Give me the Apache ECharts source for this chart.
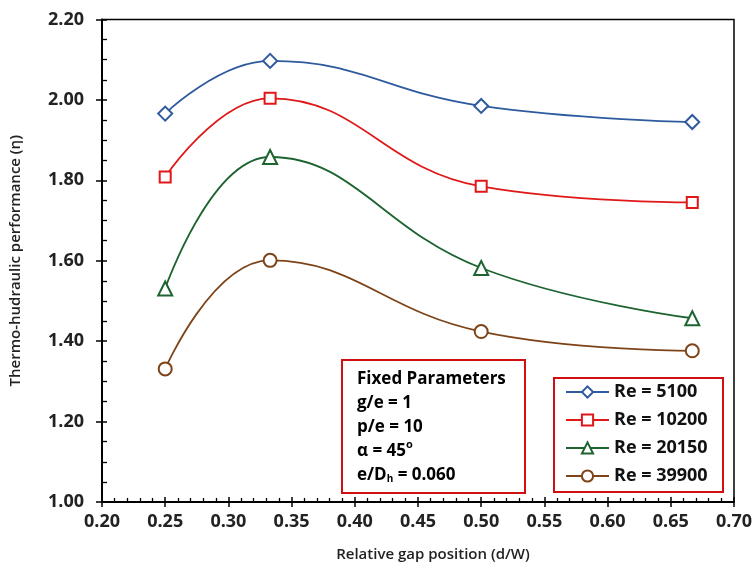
<!DOCTYPE html>
<html>
<head>
<meta charset="utf-8">
<script src="https://cdn.jsdelivr.net/npm/echarts@6/dist/echarts.min.js"></script>
<style>
html,body{margin:0;padding:0;background:#fff;}
#chart{width:755px;height:571px;}
</style>
</head>
<body>
<div id="chart"></div>
<script>
const xValues = [0.25, 0.333, 0.5, 0.667];
const seriesNames = ['Re = 5100', 'Re = 10200', 'Re = 20150', 'Re = 39900'];
const re5100 = [1.966, 2.097, 1.985, 1.945];
const re10200 = [1.808, 2.004, 1.785, 1.745];
const re20150 = [1.531, 1.858, 1.582, 1.457];
const re39900 = [1.331, 1.601, 1.424, 1.376];
const xTicks = [0.20, 0.25, 0.30, 0.35, 0.40, 0.45, 0.50, 0.55, 0.60, 0.65, 0.70];
const yTicks = [1.00, 1.20, 1.40, 1.60, 1.80, 2.00, 2.20];
const fixedParams = ['Fixed Parameters', 'g/e = 1', 'p/e = 10', 'α = 45', 'e/D', ' = 0.060'];

const FONT = 'Open Sans';
const colors = ['#2E5A9E', '#E01818', '#1D6431', '#7E4419'];
const symbols = ['diamond', 'rect', 'triangle', 'circle'];
const sizes = [14, 11, 14, 13];
const allData = [re5100, re10200, re20150, re39900];

const chart = echarts.init(document.getElementById('chart'));

const series = allData.map((vals, i) => ({
  name: seriesNames[i],
  type: 'line',
  smooth: 0.45,
  data: vals.map((v, j) => [xValues[j], v]),
  symbol: symbols[i],
  symbolSize: sizes[i],
  showAllSymbol: true,
  lineStyle: { color: colors[i], width: 1.8 },
  itemStyle: { color: '#fff', borderColor: colors[i], borderWidth: 2 },
  emphasis: { disabled: true },
  z: 3
}));

const labelStyle = { fontFamily: FONT, fontSize: 18, fontWeight: 'bold', color: '#222' };

chart.setOption({
  animation: false,
  grid: { left: 101, right: 21, top: 19.5, bottom: 69, show: true, borderColor: '#000', borderWidth: 1.5, backgroundColor: 'transparent' },
  legend: {
    orient: 'vertical',
    left: 553, top: 377,
    data: seriesNames,
    padding: [6, 0, 6, 12],
    itemGap: 10,
    itemWidth: 43, itemHeight: 14,
    textStyle: { fontFamily: FONT, fontSize: 18, fontWeight: 'bold', color: '#111' },
    z: 10
  },
  xAxis: [{
    type: 'value', min: 0.2, max: 0.7, interval: 0.05,
    name: 'Relative gap position (d/W)', nameLocation: 'middle', nameGap: 45,
    nameTextStyle: { fontFamily: FONT, fontSize: 15, fontWeight: 600, color: '#222', padding: [0, 0, 0, 30] },
    axisLine: { lineStyle: { color: '#000', width: 2 } },
    axisTick: { show: true, inside: true, length: 5, lineStyle: { color: '#000', width: 1.5 } },
    minorTick: { show: true, splitNumber: 5, length: 4, lineStyle: { color: '#000', width: 1.3 } },
    splitLine: { show: false },
    axisLabel: Object.assign({ margin: 11, formatter: v => v.toFixed(2) }, labelStyle)
  }, {
    type: 'value', min: 0.2, max: 0.7, interval: 0.05, position: 'bottom',
    axisLine: { show: false },
    axisTick: { show: true, inside: false, length: 5, lineStyle: { color: '#000', width: 1.5 } },
    axisLabel: { show: false }, splitLine: { show: false }
  }],
  yAxis: [{
    type: 'value', min: 1.0, max: 2.2, interval: 0.2,
    name: 'Thermo-hudraulic performance (η)', nameLocation: 'middle', nameGap: 79, nameRotate: 90,
    nameTextStyle: { fontFamily: FONT, fontSize: 15, fontWeight: 600, color: '#222' },
    axisLine: { show: true, lineStyle: { color: '#000', width: 2 } },
    axisTick: { show: true, inside: true, length: 5, lineStyle: { color: '#000', width: 1.5 } },
    minorTick: { show: true, splitNumber: 4, length: 5, lineStyle: { color: '#000', width: 1.3 } },
    splitLine: { show: false },
    axisLabel: Object.assign({ margin: 18, formatter: v => v.toFixed(2) }, labelStyle)
  }, {
    type: 'value', min: 1.0, max: 2.2, interval: 0.2, position: 'left',
    axisLine: { show: false },
    axisTick: { show: true, inside: false, length: 6, lineStyle: { color: '#000', width: 1.5 } },
    axisLabel: { show: false }, splitLine: { show: false }
  }],
  graphic: [{
    type: 'rect', left: 553, top: 377, z: 5,
    shape: { x: 0, y: 0, width: 169, height: 114 },
    style: { fill: '#fff', stroke: '#D01010', lineWidth: 2 }
  }, {
    type: 'group', left: 341, top: 359,
    children: [{
      type: 'rect', shape: { x: 0, y: 0, width: 183, height: 133 },
      style: { fill: '#fff', stroke: '#D01010', lineWidth: 2 }
    }, {
      type: 'text', left: 15, top: 11,
      style: {
        text: '{a|' + fixedParams[0] + '}\n{a|' + fixedParams[1] + '}\n{a|' + fixedParams[2] + '}\n{a|' + fixedParams[3] + '}{sup|o}\n{a|' + fixedParams[4] + '}{sub|h}{a|' + fixedParams[5] + '}',
        rich: {
          a: { fontFamily: FONT, fontSize: 17, fontWeight: 'bold', color: '#111', lineHeight: 24 },
          sup: { fontFamily: FONT, fontSize: 11, fontWeight: 'bold', color: '#111', lineHeight: 24, verticalAlign: 'top', padding: [0, 0, 9, 0] },
          sub: { fontFamily: FONT, fontSize: 10, fontWeight: 'bold', color: '#111', lineHeight: 24, padding: [7, 0, 0, 0] }
        }
      }
    }]
  }],
  series: series
});
</script>
</body>
</html>
